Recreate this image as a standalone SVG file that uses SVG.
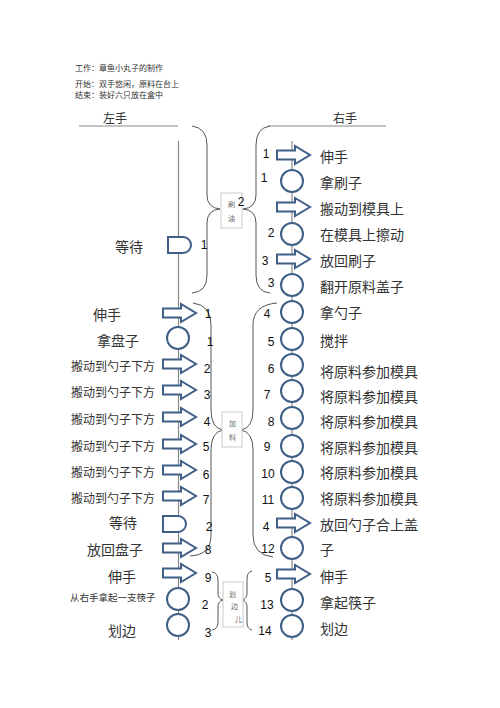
<svg xmlns="http://www.w3.org/2000/svg" width="500" height="708" viewBox="0 0 500 708">
<defs>
<style>
.cn{font-family:"Noto Sans CJK SC","Noto Sans",sans-serif;fill:#333;dominant-baseline:central}
.t14{font-size:14px}
.t12{font-size:12px}
.hd{font-size:8px}
.sm{font-size:7px;fill:#666}
.num{font-family:"Liberation Sans",Arial,sans-serif;font-size:12px;fill:#111;text-anchor:middle;dominant-baseline:central}
.shp{fill:#fff;stroke:#3f5f86;stroke-width:2}
.axis{stroke:#888;stroke-width:1.2;fill:none}
.brace{stroke:#555;stroke-width:1;fill:none}
.box{fill:#fff;stroke:#ccc;stroke-width:1}
</style>
<path id="arr" d="M-15,-4.5 H3 V-9 L18,0 L3,9 V4.5 H-15 Z"/>
<path id="dly" d="M-10,-8 H5 A8,8 0 0 1 5,8 H-10 Z"/>
</defs>
<rect width="500" height="708" fill="#fff"/>
<g id="header">
<text class="cn hd" x="75" y="67">工作：章鱼小丸子的制作</text>
<text class="cn hd" x="75" y="83">开始：双手悠闲，原料在台上</text>
<text class="cn hd" x="75" y="94">结束：装好六只放在盒中</text>
<text class="cn t12" x="103" y="117">左手</text>
<text class="cn t12" x="333" y="117">右手</text>
<line x1="79" y1="126" x2="178" y2="126" class="axis"/>
<line x1="268" y1="126" x2="386" y2="126" class="axis"/>
</g>
<g id="connectors">
<line x1="178.5" y1="141" x2="178.5" y2="640" class="axis"/>
<line x1="292" y1="141" x2="292" y2="640" class="axis"/>
<path class="brace" d="M192,126 Q207,128 207,145 V195 Q207,208 220,209 Q207,210 207,223 V275 Q207,292 192,293"/>
<path class="brace" d="M270,126 Q256,128 256,145 V195 Q256,208 243,209 Q256,210 256,223 V275 Q256,292 270,293"/>
<path class="brace" d="M193,303 Q211,305 211,325 V410 Q211,428 223,430 Q211,432 211,450 V535 Q211,555 190,556"/>
<path class="brace" d="M277,303 Q253,305 253,325 V410 Q253,428 241,430 Q253,432 253,450 V535 Q253,555 273,557"/>
<path class="brace" d="M212,572 Q218,573 218,580 V593 Q218,599 223,600 Q218,601 218,607 V622 Q218,629 212,630"/>
<path class="brace" d="M252,571 Q247,572 247,579 V593 Q247,599 242,600 Q247,601 247,607 V622 Q247,629 252,630"/>
</g>
<g id="group-shuayou">
<rect class="box" x="221" y="193" width="21" height="35"/>
<text class="cn sm" x="228" y="204">刷</text>
<text class="cn sm" x="228" y="218">油</text>
<text class="num" x="241" y="202">2</text>
</g>
<g id="group-jialiao">
<rect class="box" x="222" y="412" width="20" height="35"/>
<text class="cn sm" x="229" y="423">加</text>
<text class="cn sm" x="229" y="437">料</text>
</g>
<g id="group-huabian">
<rect class="box" x="223" y="582" width="20" height="45"/>
<text class="cn sm" x="229" y="594">划</text>
<text class="cn sm" x="231" y="606">边</text>
<text class="cn sm" x="235" y="619">儿</text>
</g>
<g id="left-steps">
<g id="L1"><use href="#dly" class="shp" x="178" y="245"/><text class="cn t14" x="115" y="246">等待</text><text class="num" x="204" y="245">1</text></g>
<g id="L2"><use href="#arr" class="shp" x="178" y="313"/><text class="cn t14" x="93" y="314">伸手</text><text class="num" x="208" y="314">1</text></g>
<g id="L3"><circle class="shp" cx="178" cy="338" r="11"/><text class="cn t14" x="97" y="340">拿盘子</text><text class="num" x="210" y="342">1</text></g>
<g id="L4"><use href="#arr" class="shp" x="178" y="364"/><text class="cn t12" x="71" y="365">搬动到勺子下方</text><text class="num" x="207" y="369">2</text></g>
<g id="L5"><use href="#arr" class="shp" x="178" y="390"/><text class="cn t12" x="71" y="391">搬动到勺子下方</text><text class="num" x="207" y="395">3</text></g>
<g id="L6"><use href="#arr" class="shp" x="178" y="417"/><text class="cn t12" x="71" y="418">搬动到勺子下方</text><text class="num" x="207" y="422">4</text></g>
<g id="L7"><use href="#arr" class="shp" x="178" y="444"/><text class="cn t12" x="71" y="445">搬动到勺子下方</text><text class="num" x="206" y="447">5</text></g>
<g id="L8"><use href="#arr" class="shp" x="178" y="470"/><text class="cn t12" x="71" y="471">搬动到勺子下方</text><text class="num" x="206" y="475">6</text></g>
<g id="L9"><use href="#arr" class="shp" x="178" y="496"/><text class="cn t12" x="71" y="497">搬动到勺子下方</text><text class="num" x="206" y="500">7</text></g>
<g id="L10"><use href="#dly" class="shp" x="173" y="524"/><text class="cn t14" x="109" y="522">等待</text><text class="num" x="209" y="527">2</text></g>
<g id="L11"><use href="#arr" class="shp" x="178" y="548"/><text class="cn t14" x="87" y="549">放回盘子</text><text class="num" x="208" y="550">8</text></g>
<g id="L12"><use href="#arr" class="shp" x="178" y="573"/><text class="cn t14" x="108" y="576">伸手</text><text class="num" x="208" y="578">9</text></g>
<g id="L13"><circle class="shp" cx="178" cy="599" r="11"/><text class="cn" style="font-size:9.5px" x="70" y="597">从右手拿起一支筷子</text><text class="num" x="205" y="605">2</text></g>
<g id="L14"><circle class="shp" cx="178" cy="625" r="11"/><text class="cn t14" x="108" y="630">划边</text><text class="num" x="208" y="633">3</text></g>
</g>
<g id="right-steps">
<g id="R1"><use href="#arr" class="shp" x="292" y="155"/><text class="cn t14" x="320" y="156">伸手</text><text class="num" x="266" y="154">1</text></g>
<g id="R2"><circle class="shp" cx="292" cy="181" r="11"/><text class="cn t14" x="320" y="182">拿刷子</text><text class="num" x="264" y="178">1</text></g>
<g id="R3"><use href="#arr" class="shp" x="292" y="207"/><text class="cn t14" x="320" y="208">搬动到模具上</text></g>
<g id="R4"><circle class="shp" cx="292" cy="234" r="11"/><text class="cn t14" x="320" y="234">在模具上擦动</text><text class="num" x="271" y="233">2</text></g>
<g id="R5"><use href="#arr" class="shp" x="292" y="259"/><text class="cn t14" x="320" y="260">放回刷子</text><text class="num" x="265" y="261">3</text></g>
<g id="R6"><circle class="shp" cx="292" cy="285" r="11"/><text class="cn t14" x="320" y="286">翻开原料盖子</text><text class="num" x="271" y="283">3</text></g>
<g id="R7"><circle class="shp" cx="292" cy="312" r="11"/><text class="cn t14" x="320" y="312">拿勺子</text><text class="num" x="267" y="314">4</text></g>
<g id="R8"><circle class="shp" cx="292" cy="339" r="11"/><text class="cn t14" x="320" y="340">搅拌</text><text class="num" x="271" y="342">5</text></g>
<g id="R9"><circle class="shp" cx="292" cy="365" r="11"/><text class="cn t14" x="320" y="371">将原料参加模具</text><text class="num" x="271" y="369">6</text></g>
<g id="R10"><circle class="shp" cx="292" cy="391" r="11"/><text class="cn t14" x="320" y="396">将原料参加模具</text><text class="num" x="267" y="395">7</text></g>
<g id="R11"><circle class="shp" cx="292" cy="418" r="11"/><text class="cn t14" x="320" y="421">将原料参加模具</text><text class="num" x="271" y="422">8</text></g>
<g id="R12"><circle class="shp" cx="292" cy="446" r="11"/><text class="cn t14" x="320" y="447">将原料参加模具</text><text class="num" x="267" y="447">9</text></g>
<g id="R13"><circle class="shp" cx="292" cy="472" r="11"/><text class="cn t14" x="320" y="472">将原料参加模具</text><text class="num" x="268" y="474">10</text></g>
<g id="R14"><circle class="shp" cx="292" cy="498" r="11"/><text class="cn t14" x="320" y="498">将原料参加模具</text><text class="num" x="268" y="500">11</text></g>
<g id="R15"><use href="#arr" class="shp" x="292" y="523"/><text class="cn t14" x="320" y="524">放回勺子合上盖</text><text class="num" x="266" y="527">4</text></g>
<g id="R16"><circle class="shp" cx="292" cy="548" r="11"/><text class="cn t14" x="320" y="549">子</text><text class="num" x="268" y="549">12</text></g>
<g id="R17"><use href="#arr" class="shp" x="292" y="574"/><text class="cn t14" x="320" y="576">伸手</text><text class="num" x="268" y="578">5</text></g>
<g id="R18"><circle class="shp" cx="292" cy="600" r="11"/><text class="cn t14" x="320" y="602">拿起筷子</text><text class="num" x="267" y="605">13</text></g>
<g id="R19"><circle class="shp" cx="292" cy="626" r="11"/><text class="cn t14" x="320" y="628">划边</text><text class="num" x="265" y="631">14</text></g>
</g>
</svg>
